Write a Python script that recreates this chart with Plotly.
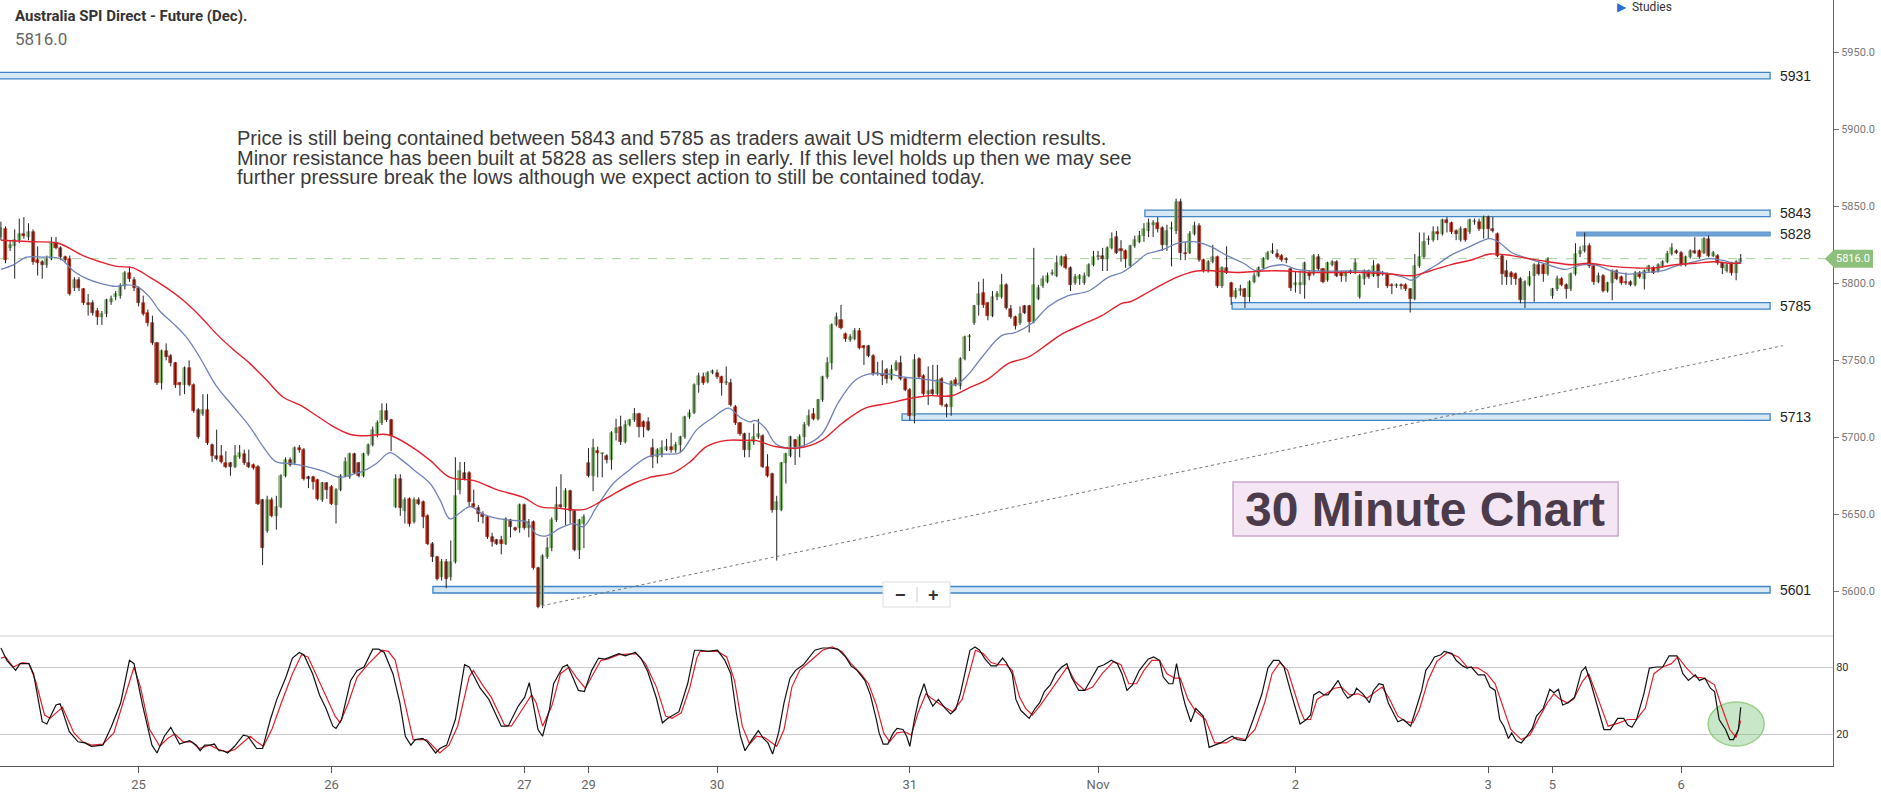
import plotly.graph_objects as go
from plotly.subplots import make_subplots

# --- 30 minute bars of the SPI Dec future (bar 0 = left edge) ---
opens = [
    5830, 5835, 5823, 5824, 5828, 5832, 5830, 5833, 5815, 5814,
    5812, 5816, 5826, 5823, 5817, 5816, 5797, 5802, 5796, 5787,
    5787, 5782, 5778, 5780, 5788, 5791, 5792, 5798, 5807, 5802,
    5797, 5787, 5781, 5774, 5761, 5735, 5756, 5753, 5748, 5735,
    5734, 5745, 5734, 5718, 5715, 5718, 5695, 5688, 5688, 5683,
    5683, 5681, 5687, 5689, 5683, 5682, 5681, 5659, 5639, 5659,
    5649, 5655, 5675, 5685, 5683, 5693, 5692, 5674, 5674, 5672,
    5659, 5670, 5668, 5656, 5666, 5675, 5674, 5689, 5683, 5675,
    5689, 5695, 5702, 5709, 5717, 5711, 5655, 5673, 5652, 5660,
    5645, 5659, 5658, 5649, 5631, 5622, 5609, 5619, 5609, 5619,
    5666, 5677, 5677, 5657, 5654, 5650, 5648, 5635, 5633, 5633,
    5631, 5646, 5641, 5641, 5656, 5641, 5645, 5615, 5591, 5622,
    5628, 5646, 5656, 5655, 5665, 5652, 5627, 5644, 5683, 5675,
    5691, 5689, 5688, 5685, 5703, 5707, 5697, 5708, 5711, 5715,
    5710, 5710, 5693, 5687, 5689, 5692, 5694, 5692, 5695, 5700,
    5713, 5716, 5734, 5739, 5736, 5742, 5742, 5739, 5735, 5735,
    5720, 5709, 5702, 5692, 5697, 5700, 5701, 5681, 5676, 5653,
    5653, 5683, 5688, 5698, 5694, 5700, 5708, 5715, 5712, 5724,
    5739, 5748, 5773, 5776, 5767, 5763, 5764, 5769, 5759, 5759,
    5753, 5741, 5741, 5744, 5738, 5744, 5748, 5738, 5731, 5714,
    5751, 5740, 5728, 5731, 5728, 5738, 5721, 5720, 5737, 5733,
    5751, 5765, 5774, 5786, 5794, 5787, 5779, 5791, 5791, 5799,
    5783, 5778, 5774, 5785, 5785, 5775, 5790, 5798, 5801, 5806,
    5805, 5812, 5817, 5810, 5800, 5803, 5800, 5805, 5812, 5817,
    5818, 5816, 5823, 5830, 5822, 5821, 5811, 5824, 5827, 5831,
    5834, 5838, 5839, 5836, 5825, 5835, 5834, 5853, 5820, 5820,
    5832, 5837, 5815, 5808, 5814, 5817, 5798, 5810, 5800, 5791,
    5795, 5796, 5791, 5801, 5805, 5810, 5816, 5820, 5819, 5818,
    5816, 5809, 5799, 5799, 5799, 5807, 5806, 5817, 5809, 5802,
    5812, 5814, 5807, 5805, 5808, 5807, 5791, 5803, 5808, 5805,
    5812, 5807, 5806, 5799, 5798, 5799, 5799, 5796, 5790, 5811,
    5817, 5828, 5828, 5833, 5832, 5841, 5839, 5834, 5828, 5835,
    5833, 5840, 5840, 5835, 5843, 5835, 5832, 5818, 5808, 5807,
    5806, 5803, 5789, 5799, 5805, 5812, 5812, 5806, 5792, 5796,
    5803, 5799, 5796, 5806, 5819, 5821, 5824, 5811, 5801, 5805,
    5795, 5800, 5808, 5804, 5801, 5801, 5799, 5807, 5803, 5808,
    5810, 5808, 5811, 5814, 5819, 5821, 5820, 5812, 5817, 5821,
    5821, 5820, 5829, 5818, 5818, 5813, 5808, 5813, 5807, 5814,
]
highs = [
    5840, 5837, 5828, 5835, 5842, 5843, 5839, 5835, 5824, 5815,
    5818, 5830, 5830, 5824, 5818, 5818, 5804, 5804, 5797, 5793,
    5789, 5784, 5782, 5790, 5792, 5795, 5800, 5808, 5811, 5804,
    5798, 5792, 5783, 5779, 5762, 5757, 5761, 5754, 5749, 5736,
    5746, 5750, 5735, 5719, 5728, 5728, 5696, 5705, 5695, 5691,
    5684, 5695, 5695, 5692, 5692, 5683, 5682, 5660, 5662, 5661,
    5662, 5676, 5687, 5687, 5694, 5695, 5693, 5675, 5675, 5673,
    5671, 5671, 5669, 5667, 5676, 5687, 5690, 5690, 5684, 5690,
    5696, 5707, 5711, 5722, 5722, 5712, 5676, 5676, 5661, 5661,
    5661, 5661, 5659, 5650, 5632, 5623, 5621, 5621, 5633, 5687,
    5684, 5684, 5678, 5666, 5656, 5652, 5649, 5638, 5634, 5636,
    5648, 5647, 5642, 5657, 5657, 5647, 5646, 5616, 5624, 5635,
    5648, 5668, 5676, 5667, 5666, 5653, 5647, 5650, 5693, 5699,
    5694, 5690, 5689, 5704, 5712, 5714, 5711, 5712, 5719, 5716,
    5711, 5713, 5699, 5693, 5698, 5699, 5703, 5697, 5701, 5714,
    5718, 5735, 5742, 5742, 5743, 5744, 5744, 5740, 5746, 5738,
    5721, 5710, 5703, 5703, 5709, 5712, 5702, 5689, 5677, 5662,
    5684, 5690, 5701, 5699, 5702, 5710, 5718, 5719, 5725, 5740,
    5752, 5774, 5781, 5786, 5768, 5767, 5771, 5771, 5760, 5760,
    5754, 5749, 5750, 5745, 5747, 5750, 5753, 5739, 5732, 5754,
    5752, 5741, 5746, 5747, 5747, 5739, 5722, 5737, 5739, 5752,
    5766, 5767, 5786, 5801, 5803, 5788, 5795, 5795, 5806, 5800,
    5786, 5779, 5785, 5786, 5786, 5823, 5799, 5805, 5807, 5809,
    5818, 5818, 5819, 5811, 5806, 5806, 5807, 5813, 5821, 5821,
    5823, 5824, 5833, 5834, 5828, 5822, 5825, 5831, 5834, 5839,
    5842, 5841, 5843, 5837, 5838, 5840, 5855, 5855, 5827, 5834,
    5840, 5839, 5816, 5815, 5825, 5818, 5811, 5824, 5801, 5797,
    5799, 5797, 5802, 5807, 5811, 5817, 5821, 5826, 5822, 5819,
    5817, 5810, 5808, 5808, 5814, 5808, 5819, 5819, 5810, 5814,
    5815, 5815, 5808, 5808, 5809, 5816, 5806, 5809, 5809, 5815,
    5813, 5808, 5807, 5800, 5800, 5800, 5800, 5797, 5819, 5833,
    5833, 5831, 5837, 5837, 5842, 5843, 5840, 5835, 5837, 5836,
    5842, 5842, 5842, 5844, 5844, 5843, 5833, 5819, 5815, 5808,
    5807, 5804, 5802, 5808, 5813, 5814, 5813, 5817, 5797, 5805,
    5804, 5800, 5807, 5826, 5824, 5833, 5826, 5812, 5807, 5806,
    5801, 5809, 5809, 5805, 5807, 5802, 5808, 5808, 5809, 5812,
    5811, 5813, 5815, 5821, 5826, 5822, 5821, 5818, 5822, 5830,
    5822, 5830, 5831, 5821, 5819, 5814, 5813, 5814, 5815, 5819,
]
lows = [
    5828, 5813, 5821, 5803, 5826, 5829, 5828, 5812, 5805, 5803,
    5810, 5815, 5822, 5815, 5813, 5792, 5795, 5795, 5786, 5779,
    5779, 5773, 5773, 5778, 5786, 5789, 5790, 5796, 5801, 5795,
    5785, 5779, 5772, 5760, 5734, 5731, 5750, 5746, 5732, 5727,
    5728, 5733, 5716, 5699, 5714, 5695, 5684, 5685, 5683, 5680,
    5675, 5680, 5686, 5682, 5680, 5679, 5656, 5617, 5638, 5648,
    5640, 5654, 5674, 5681, 5682, 5690, 5672, 5667, 5666, 5659,
    5658, 5660, 5656, 5644, 5665, 5674, 5673, 5676, 5674, 5674,
    5688, 5694, 5700, 5708, 5710, 5691, 5654, 5649, 5644, 5642,
    5644, 5656, 5641, 5630, 5619, 5607, 5607, 5602, 5607, 5618,
    5663, 5672, 5655, 5654, 5645, 5644, 5634, 5629, 5630, 5624,
    5630, 5635, 5639, 5638, 5640, 5635, 5614, 5589, 5589, 5621,
    5626, 5645, 5654, 5643, 5644, 5626, 5621, 5628, 5674, 5665,
    5674, 5674, 5683, 5679, 5698, 5695, 5696, 5707, 5710, 5700,
    5700, 5704, 5680, 5683, 5687, 5691, 5690, 5690, 5690, 5699,
    5712, 5715, 5729, 5734, 5735, 5741, 5738, 5727, 5734, 5720,
    5708, 5701, 5687, 5687, 5695, 5699, 5680, 5674, 5651, 5620,
    5652, 5670, 5687, 5682, 5687, 5694, 5707, 5711, 5711, 5723,
    5738, 5744, 5772, 5770, 5762, 5762, 5763, 5757, 5747, 5752,
    5740, 5740, 5734, 5735, 5737, 5743, 5737, 5730, 5711, 5709,
    5738, 5727, 5721, 5727, 5727, 5720, 5713, 5714, 5733, 5731,
    5750, 5756, 5773, 5779, 5784, 5776, 5778, 5789, 5790, 5783,
    5777, 5770, 5773, 5780, 5768, 5774, 5789, 5797, 5800, 5805,
    5804, 5811, 5809, 5795, 5799, 5799, 5799, 5804, 5811, 5815,
    5808, 5808, 5822, 5819, 5814, 5810, 5810, 5823, 5826, 5827,
    5830, 5830, 5833, 5821, 5821, 5811, 5832, 5815, 5815, 5819,
    5831, 5814, 5807, 5807, 5813, 5797, 5797, 5806, 5786, 5790,
    5792, 5784, 5788, 5800, 5804, 5809, 5815, 5819, 5816, 5814,
    5813, 5795, 5794, 5793, 5790, 5802, 5805, 5808, 5800, 5801,
    5811, 5804, 5801, 5801, 5806, 5806, 5790, 5799, 5803, 5804,
    5797, 5805, 5797, 5793, 5797, 5796, 5795, 5781, 5789, 5810,
    5816, 5825, 5827, 5828, 5831, 5833, 5832, 5828, 5827, 5827,
    5832, 5838, 5834, 5829, 5829, 5833, 5817, 5799, 5799, 5799,
    5799, 5787, 5784, 5798, 5788, 5805, 5801, 5805, 5790, 5795,
    5798, 5790, 5795, 5805, 5817, 5820, 5810, 5799, 5800, 5794,
    5794, 5789, 5802, 5799, 5799, 5798, 5798, 5803, 5796, 5807,
    5806, 5807, 5810, 5813, 5818, 5819, 5811, 5811, 5816, 5819,
    5816, 5819, 5817, 5817, 5812, 5806, 5807, 5805, 5802, 5813,
]
closes = [
    5836, 5815, 5825, 5828, 5832, 5831, 5833, 5814, 5813, 5812,
    5816, 5826, 5823, 5817, 5815, 5793, 5802, 5797, 5787, 5786,
    5781, 5778, 5780, 5789, 5790, 5793, 5798, 5807, 5803, 5797,
    5787, 5780, 5774, 5761, 5735, 5756, 5752, 5748, 5734, 5734,
    5745, 5734, 5717, 5700, 5718, 5696, 5688, 5686, 5684, 5681,
    5681, 5688, 5690, 5683, 5681, 5680, 5657, 5628, 5659, 5649,
    5655, 5675, 5685, 5682, 5693, 5692, 5673, 5673, 5671, 5660,
    5670, 5666, 5657, 5666, 5675, 5684, 5689, 5677, 5675, 5689,
    5695, 5705, 5709, 5717, 5711, 5701, 5673, 5654, 5659, 5644,
    5659, 5657, 5648, 5631, 5622, 5608, 5619, 5608, 5619, 5662,
    5678, 5673, 5658, 5655, 5650, 5648, 5635, 5632, 5631, 5631,
    5647, 5642, 5640, 5656, 5641, 5645, 5615, 5590, 5623, 5628,
    5646, 5656, 5655, 5665, 5652, 5627, 5646, 5648, 5675, 5693,
    5690, 5689, 5685, 5703, 5706, 5697, 5708, 5711, 5715, 5707,
    5707, 5705, 5687, 5692, 5693, 5694, 5692, 5695, 5700, 5713,
    5716, 5734, 5740, 5735, 5742, 5743, 5739, 5735, 5735, 5721,
    5709, 5702, 5692, 5697, 5700, 5702, 5681, 5675, 5653, 5658,
    5683, 5689, 5700, 5694, 5700, 5708, 5714, 5712, 5724, 5739,
    5748, 5773, 5778, 5771, 5764, 5765, 5769, 5758, 5758, 5753,
    5741, 5741, 5740, 5738, 5744, 5748, 5738, 5731, 5714, 5750,
    5739, 5728, 5730, 5728, 5737, 5721, 5720, 5736, 5734, 5751,
    5765, 5766, 5785, 5793, 5786, 5779, 5791, 5793, 5799, 5784,
    5778, 5772, 5780, 5781, 5775, 5799, 5797, 5803, 5805, 5807,
    5813, 5817, 5810, 5799, 5804, 5805, 5805, 5812, 5817, 5818,
    5816, 5823, 5829, 5820, 5821, 5816, 5824, 5828, 5831, 5835,
    5839, 5839, 5835, 5825, 5834, 5836, 5853, 5820, 5819, 5832,
    5837, 5815, 5808, 5814, 5817, 5798, 5810, 5807, 5791, 5795,
    5796, 5791, 5801, 5805, 5810, 5816, 5820, 5820, 5817, 5815,
    5815, 5797, 5800, 5800, 5813, 5805, 5818, 5809, 5801, 5813,
    5814, 5805, 5805, 5807, 5807, 5813, 5805, 5808, 5804, 5811,
    5805, 5806, 5798, 5798, 5799, 5798, 5796, 5790, 5811, 5817,
    5827, 5829, 5833, 5832, 5841, 5839, 5833, 5832, 5835, 5828,
    5841, 5840, 5835, 5843, 5835, 5834, 5818, 5806, 5804, 5804,
    5803, 5789, 5801, 5804, 5812, 5806, 5806, 5816, 5796, 5803,
    5799, 5796, 5806, 5819, 5821, 5824, 5811, 5801, 5805, 5795,
    5800, 5808, 5803, 5800, 5800, 5799, 5807, 5804, 5808, 5811,
    5807, 5812, 5814, 5819, 5823, 5820, 5812, 5817, 5821, 5820,
    5817, 5829, 5818, 5820, 5813, 5810, 5812, 5807, 5814, 5816,
]

# session starts shown on the time axis (bar index) and their labels
day_ticks = [30, 72, 114, 128, 156, 198, 239, 282, 324, 338, 366]
day_labels = ["25", "26", "27", "29", "30", "31", "Nov", "2", "3", "5", "6"]

# moving averages: bar index / price
ma_fast_x = [0, 2.7, 5.6, 9.2, 12.9, 15.8, 18.7, 21.6, 25.2, 27.4, 29.6, 32.4, 34.6, 37.5, 40.4,
             43.3, 47.0, 50.6, 54.2, 57.1, 60.0, 62.9, 66.6, 70.2, 73.8, 76.7, 78.9, 81.8, 84.7,
             87.0, 89.9, 93.5, 95.7, 97.8, 100.0, 102.2, 105.1, 108.7, 111.6, 114.5, 116.7, 118.9,
             121.8, 124.7, 126.9, 129.8, 133.4, 137.0, 140.7, 144.3, 147.9, 151.6, 155.2, 158.5,
             161.0, 163.2, 164.3, 166.5, 168.7, 171.6, 175.2, 178.8, 182.5, 186.1, 189.0, 193.3,
             197.0, 200.6, 205.0, 207.9, 210.8, 213.7, 218.0, 220.9, 224.6, 228.2, 232.5, 236.9,
             241.3, 244.2, 247.1, 249.6, 253.3, 256.2, 259.8, 263.4, 267.1, 270.7, 273.6, 276.5,
             279.4, 282.3, 286.7, 292.5, 296.8, 301.2, 305.5, 307.3, 309.9, 312.8, 315.7, 320.1,
             324.4, 326.6, 329.1, 332.8, 337.1, 340.7, 344.4, 347.3, 350.9, 354.5, 358.2, 361.8,
             364.7, 369.1, 372.0, 374.9, 377.8, 379.0]
ma_fast_y = [5809, 5812, 5817, 5817, 5816, 5808, 5803, 5800, 5798, 5799, 5798, 5791, 5782, 5774, 5765,
             5752, 5733, 5720, 5707, 5694, 5684, 5683, 5681, 5678, 5674, 5676, 5678, 5683, 5690,
             5686, 5679, 5670, 5659, 5647, 5651, 5655, 5650, 5647, 5646, 5645, 5637, 5636,
             5641, 5644, 5642, 5655, 5670, 5679, 5687, 5689, 5690, 5705, 5713, 5719,
             5713, 5710, 5711, 5706, 5696, 5693, 5695, 5702, 5723, 5737, 5741, 5741,
             5739, 5738, 5736, 5734, 5741, 5752, 5766, 5768, 5774, 5785, 5792, 5795,
             5804, 5807, 5813, 5819, 5822, 5826, 5827, 5824, 5818, 5813, 5808, 5811,
             5812, 5809, 5808, 5808, 5808, 5807, 5804, 5802, 5807, 5812, 5818, 5824,
             5829, 5826, 5820, 5816, 5812, 5809, 5812, 5812, 5808, 5806, 5807, 5808,
             5811, 5814, 5816, 5815, 5813, 5814]
ma_slow_x = [0, 7.0, 12.5, 17.9, 21.6, 25.2, 28.8, 32.4, 36.1, 39.7, 43.3, 47.0, 50.6, 54.2, 57.9,
             61.5, 65.1, 68.8, 72.4, 76.0, 79.6, 83.3, 85.1, 89.9, 93.5, 97.8, 102.9, 108.0, 113.8,
             117.4, 121.1, 126.9, 130.5, 133.4, 137.8, 141.4, 146.5, 150.1, 153.7, 158.1, 162.5,
             164.3, 168.7, 173.7, 178.8, 183.2, 188.3, 193.3, 197.7, 202.1, 207.1, 210.8, 215.1,
             219.5, 223.8, 228.2, 231.1, 235.4, 239.8, 244.2, 246.0, 250.4, 256.2, 260.5, 264.9,
             269.2, 275.0, 280.1, 285.2, 289.6, 296.8, 302.6, 307.7, 311.3, 315.7, 320.1, 324.4,
             329.1, 332.8, 337.1, 342.2, 345.8, 350.9, 356.0, 360.3, 364.7, 369.1, 373.4, 376.3, 379.0]
ma_slow_y = [5828, 5827, 5826, 5818, 5814, 5811, 5810, 5804, 5797, 5789, 5779, 5767, 5757, 5748, 5737,
             5726, 5721, 5714, 5707, 5702, 5701, 5702, 5701, 5693, 5685, 5674, 5672, 5666, 5661,
             5655, 5654, 5653, 5658, 5663, 5670, 5674, 5677, 5684, 5694, 5698, 5698,
             5698, 5694, 5693, 5698, 5709, 5719, 5722, 5725, 5727, 5727, 5732, 5738,
             5748, 5752, 5761, 5767, 5773, 5779, 5787, 5788, 5795, 5804, 5808, 5808,
             5807, 5808, 5808, 5807, 5807, 5807, 5806, 5805, 5808, 5812, 5815, 5819,
             5818, 5816, 5814, 5812, 5813, 5811, 5810, 5810, 5812, 5813, 5814, 5813, 5813]

# slow stochastic (%K black, %D red) turning points: bar index / value
stoch_k_x = [0, 1.3, 3.2, 4.2, 6.1, 7.1, 9.0, 10.0, 12.0, 12.9,
             14.9, 16.8, 18.3, 19.7, 22.2, 24.1, 26.1, 28.0, 29.0, 30.9,
             32.9, 34.0, 35.6, 37.0, 38.9, 41.1, 42.6, 43.4, 44.4, 45.5,
             46.5, 47.5, 48.4, 49.4, 50.9, 52.8, 53.8, 55.7, 57.0, 58.7,
             60.1, 62.1, 63.5, 65.0, 66.0, 67.9, 69.4, 70.8, 72.3, 73.0,
             74.2, 76.2, 77.6, 79.1, 81.0, 82.3, 83.5, 85.4, 86.9, 88.1,
             89.3, 90.3, 91.9, 92.9, 94.7, 95.6, 97.1, 99.0, 101.0, 102.0,
             104.4, 106.3, 109.0, 110.5, 112.7, 114.1, 115.1, 116.1, 117.0, 118.0,
             119.5, 120.4, 122.4, 123.4, 125.8, 127.1, 128.7, 130.2, 131.6, 134.6,
             136.0, 138.2, 139.4, 140.9, 142.8, 144.1, 145.3, 147.7, 149.6, 151.1,
             152.3, 154.0, 156.1, 157.7, 159.0, 160.2, 161.1, 162.1, 163.6, 165.0,
             166.1, 167.1, 168.1, 169.4, 170.6, 171.9, 173.1, 174.8, 176.1, 177.3,
             179.0, 180.6, 182.3, 184.0, 185.2, 186.5, 188.2, 189.4, 190.7, 191.3,
             192.2, 193.2, 194.4, 195.2, 196.5, 197.3, 198.0, 199.0, 200.0, 201.1,
             201.9, 203.0, 204.2, 205.7, 206.9, 208.0, 209.0, 209.8, 211.1, 212.2,
             213.2, 214.4, 215.7, 216.9, 218.2, 219.0, 220.3, 221.1, 222.2, 224.0,
             225.3, 226.3, 227.3, 228.6, 229.8, 231.1, 232.2, 233.2, 234.8, 236.1,
             237.3, 239.0, 240.3, 241.9, 243.2, 244.2, 245.3, 246.5, 248.0, 249.9,
             251.1, 252.4, 253.2, 254.4, 255.3, 256.1, 257.2, 258.0, 259.2, 260.3,
             261.9, 263.2, 264.4, 265.7, 266.9, 268.2, 269.4, 271.1, 272.8, 274.7,
             276.0, 277.2, 278.4, 279.5, 281.1, 283.0,
             284.4, 285.3, 286.0, 287.2, 288.2, 289.1, 290.1, 291.3, 292.4, 293.4,
             294.8, 295.3, 296.7, 298.1, 299.0, 300.2, 301.1, 302.2, 303.3, 304.3,
             305.5, 307.1, 308.0, 309.5, 310.4, 311.3, 312.3, 313.7, 314.4, 316.1,
             317.0, 318.4, 319.4, 320.3, 321.8, 323.2, 324.4, 325.5, 326.5, 327.4,
             328.4, 329.1, 330.1, 331.2, 332.4, 333.6, 334.5, 336.0, 337.4, 338.3,
             339.3, 340.2, 341.4, 342.8, 344.3, 345.2, 346.4, 347.8, 349.2, 350.6,
             352.2, 353.5, 354.4, 355.3, 356.3, 357.9, 359.1, 360.6, 362.0, 363.4,
             365.1, 366.4, 367.6, 369.1, 370.0, 371.2, 372.4, 373.3, 374.3, 375.7,
             376.6, 377.4, 378.5, 379.0]
stoch_k_y = [97, 86, 77, 83, 83, 74, 31, 29, 46, 47,
             22, 13, 12, 9, 10, 27, 48, 86, 83, 45,
             10, 3, 18, 26, 11, 14, 10, 5, 10, 10,
             11, 5, 5, 3, 9, 19, 18, 7, 7, 33,
             51, 71, 88, 93, 91, 74, 55, 43, 27, 25,
             33, 68, 77, 80, 96, 96, 93, 74, 48, 18,
             10, 15, 16, 13, 3, 7, 10, 33, 82, 80,
             61, 51, 27, 27, 45, 53, 66, 45, 24, 18,
             42, 65, 80, 82, 59, 58, 77, 88, 87, 92,
             90, 93, 88, 76, 52, 30, 34, 40, 65, 95,
             95, 94, 95, 86, 74, 39, 18, 5, 15, 23,
             16, 12, 2, 21, 48, 70, 77, 82, 89, 95,
             97, 97, 96, 89, 81, 77, 68, 55, 33, 21,
             11, 11, 21, 25, 24, 18, 9, 33, 52, 65,
             54, 45, 51, 43, 38, 42, 56, 70, 95, 98,
             95, 87, 81, 81, 88, 84, 74, 51, 41, 34,
             43, 48, 58, 64, 74, 80, 83, 71, 59, 59,
             68, 80, 82, 86, 83, 74, 59, 64, 77, 87,
             89, 86, 71, 65, 65, 83, 59, 46, 31, 43,
             36, 8, 10, 12, 15, 18, 15, 14, 33, 56,
             79, 86, 86, 80, 56, 29,
             33, 37, 55, 58, 55, 55, 61, 68, 58, 52,
             56, 61, 56, 48, 59, 65, 64, 48, 39, 31,
             33, 27, 39, 59, 77, 82, 89, 91, 94, 92,
             86, 81, 79, 80, 73, 73, 62, 59, 33, 27,
             16, 21, 14, 12, 18, 25, 36, 43, 60, 57,
             60, 46, 48, 53, 76, 80, 65, 45, 24, 24,
             34, 34, 28, 26, 33, 56, 79, 80, 80, 90,
             90, 74, 68, 73, 68, 70, 61, 58, 33, 24,
             15, 15, 24, 44]
stoch_d_x = [0, 1.0, 2.7, 4.7, 6.1, 7.6, 9.5, 10.7, 13.4, 15.9,
             17.8, 19.7, 22.2, 24.6, 26.6, 29.0, 30.4, 32.4, 34.6, 36.3,
             37.9, 39.7, 41.6, 43.1, 45.5, 47.5, 49.2, 50.9, 54.3, 55.7,
             57.2, 59.1, 61.1, 63.5, 65.5, 66.9, 69.9, 72.8, 73.9, 75.7,
             77.6, 80.1, 83.0, 84.4, 85.9, 87.9, 89.8, 92.7, 95.6, 97.6,
             99.5, 102.0, 102.9, 104.9, 106.8, 109.7, 111.2, 113.1, 115.6, 116.6,
             118.0, 120.0, 121.9, 123.8, 125.3, 127.3, 128.7, 130.7, 132.1, 134.6,
             138.4, 140.4, 142.8, 144.8, 146.2, 148.2, 150.1, 151.6,
             152.3, 156.1, 158.1, 159.8, 161.5, 163.1, 164.6, 166.3, 169.0, 170.6,
             172.3, 174.0, 176.5, 179.0, 181.1, 183.2, 185.2, 187.3, 189.0, 190.7,
             192.3, 193.6, 195.2, 196.9, 198.3, 199.8, 201.5, 202.7, 204.8, 207.3,
             209.4, 210.7, 212.3, 214.0, 215.7, 217.3, 219.0, 220.3, 221.9, 223.2,
             224.7, 226.5, 228.6, 230.7, 232.3, 234.0, 236.1, 237.8, 239.9, 242.4,
             244.0, 245.7, 247.4, 249.0, 250.7, 252.4, 254.0, 255.7, 256.9, 258.6,
             260.3, 262.4, 264.4, 266.9, 269.0, 271.1, 273.2, 275.3, 276.9, 278.6,
             280.3, 281.9, 283.0,
             283.9, 285.3, 286.7, 288.6, 290.5, 292.0, 293.8, 295.7, 297.6, 299.5,
             300.9, 302.4, 304.3, 306.1, 307.6, 309.0, 310.9, 312.8, 315.1, 317.5,
             319.4, 321.8, 323.7, 325.5, 327.4, 328.9, 331.2, 333.1, 335.0, 336.9,
             338.3, 339.7, 341.2, 342.6, 344.5, 345.9, 347.8, 350.1, 352.5, 354.4,
             356.3, 358.2, 360.1, 362.0, 363.9, 365.3, 367.2, 369.1, 371.0, 373.3,
             374.7, 376.6, 378.0, 379.0]
stoch_d_y = [88, 89, 80, 84, 83, 67, 37, 34, 44, 21,
             13, 10, 11, 21, 48, 80, 62, 24, 9, 16,
             20, 13, 13, 7, 10, 6, 4, 6, 18, 13,
             9, 25, 48, 74, 91, 89, 62, 36, 30, 48,
             71, 83, 95, 94, 86, 48, 15, 15, 3, 10,
             27, 71, 77, 64, 53, 28, 27, 39, 55, 48,
             27, 45, 74, 80, 71, 61, 71, 86, 87, 91,
             92, 83, 62, 36, 34, 39, 62, 88,
             94, 94, 89, 68, 27, 11, 18, 17, 9, 24,
             62, 77, 86, 95, 98, 94, 83, 74, 65, 46,
             21, 13, 21, 22, 19, 39, 56, 52, 46, 40,
             51, 71, 95, 92, 84, 82, 82, 77, 53, 43,
             37, 46, 58, 71, 80, 67, 59, 62, 74, 85,
             82, 65, 65, 77, 86, 86, 74, 70, 70, 51,
             40, 33, 12, 12, 17, 15, 24, 48, 74, 84,
             77, 56, 42,
             33, 33, 51, 56, 61, 62, 55, 56, 52, 58,
             62, 52, 36, 31, 30, 42, 68, 85, 93, 89,
             80, 79, 74, 65, 42, 24, 15, 19, 34, 48,
             56, 51, 48, 51, 67, 74, 53, 27, 30, 33,
             33, 43, 74, 80, 83, 89, 79, 71, 70, 64,
             46, 24, 17, 32]

# support / resistance levels drawn by the analyst
levels = [5931, 5843, 5828, 5785, 5713, 5601]
last_price = 5816.0

note_lines = [
    "Price is still being contained between 5843 and 5785 as traders await US midterm election results.",
    "Minor resistance has been built at 5828 as sellers step in early. If this level holds up then we may see",
    "further pressure break the lows although we expect action to still be contained today.",
]

# ---------------- drawing ----------------
GREEN = "#8fc27a"
GREEN_EDGE = "#6ea65a"
RED = "#b32d1a"
FONT = "Liberation Sans, Arial, sans-serif"
PLOT_W, PLOT_H = 1833, 766   # plot area in pixels (1881x795 page)

# where each analyst box sits on the chart (start bar, centre price)
zone_start = [-2, 249.2, 343.3, 268.2, 196.3, 94.1]
zone_mid = [5934.8, 5845.4, 5832.0, 5785.3, 5713.1, 5601.0]
zone_end = 385.4
trend_from = (117.8, 5590.6)
trend_to = (388.2, 5759.5)

n = len(closes)
bars = list(range(n))

fig = make_subplots(rows=2, cols=1, shared_xaxes=True, vertical_spacing=0,
                    row_heights=[636 / 766, 130 / 766])

# wicks
wx, wy = [], []
for i in bars:
    wx += [i, i, None]
    wy += [lows[i], highs[i], None]
fig.add_trace(go.Scatter(x=wx, y=wy, mode="lines", line=dict(color="#222222", width=1),
                         hoverinfo="skip", showlegend=False), row=1, col=1)

# candle bodies
body_base = [min(o, c) for o, c in zip(opens, closes)]
body_len = [max(abs(c - o), 0.7) for o, c in zip(opens, closes)]
body_col = [GREEN if c >= o else RED for o, c in zip(opens, closes)]
edge_col = [GREEN_EDGE if c >= o else RED for o, c in zip(opens, closes)]
fig.add_trace(go.Bar(x=bars, y=body_len, base=body_base, width=0.66,
                     marker=dict(color=body_col, line=dict(color=edge_col, width=0.6)),
                     hoverinfo="skip", showlegend=False), row=1, col=1)

# moving averages
fig.add_trace(go.Scatter(x=ma_fast_x, y=ma_fast_y, mode="lines", line_shape="spline",
                         line=dict(color="#6f82b8", width=1.3), showlegend=False), row=1, col=1)
fig.add_trace(go.Scatter(x=ma_slow_x, y=ma_slow_y, mode="lines", line_shape="spline",
                         line=dict(color="#e3202c", width=1.4), showlegend=False), row=1, col=1)

# stochastic
fig.add_trace(go.Scatter(x=stoch_d_x, y=stoch_d_y, mode="lines",
                         line=dict(color="#e0202a", width=1.2), showlegend=False), row=2, col=1)
fig.add_trace(go.Scatter(x=stoch_k_x, y=stoch_k_y, mode="lines",
                         line=dict(color="#111111", width=1.2), showlegend=False), row=2, col=1)

shapes = []
for lv, x0, mid in zip(levels, zone_start, zone_mid):
    solid = lv == 5828
    half = 1.2 if solid else 2.1
    shapes.append(dict(type="rect", xref="x", yref="y", x0=x0, x1=zone_end,
                       y0=mid - half, y1=mid + half, layer="between",
                       fillcolor="#6fa3d8" if solid else "#d6e7f6",
                       line=dict(color="#5b95cf" if solid else "#3f85c6", width=1.3)))

# trend line
shapes.append(dict(type="line", xref="x", yref="y", x0=trend_from[0], y0=trend_from[1],
                   x1=trend_to[0], y1=trend_to[1], line=dict(color="#777777", width=1, dash="dot")))

# last price line
shapes.append(dict(type="line", xref="paper", yref="y", x0=0, x1=1, y0=last_price, y1=last_price,
                   layer="between", line=dict(color="#a6d19c", width=1, dash="dash")))

# last price tag on the axis
shapes.append(dict(type="path", xref="paper", yref="y", xsizemode="pixel", ysizemode="pixel",
                   xanchor=1, yanchor=last_price, path="M -8,0 L 1,9 L 40,9 L 40,-9 L 1,-9 Z",
                   fillcolor="#8dc07a", line=dict(width=0)))

# "30 Minute Chart" label box
shapes.append(dict(type="rect", xref="x", yref="y", x0=268.4, x1=352.3, y0=5635.9, y1=5671.0,
                   fillcolor="#f4e7f3", line=dict(color="#c9a9c9", width=1.5)))

# panel separator and stochastic marker circle
shapes.append(dict(type="line", xref="paper", yref="paper", x0=0, x1=1, y0=130 / 766, y1=130 / 766,
                   line=dict(color="#cccccc", width=1)))
shapes.append(dict(type="circle", xref="x2", yref="y2", x0=371.9, x1=384.1, y0=9.3, y1=48.7,
                   layer="between", fillcolor="rgba(125,198,125,0.42)",
                   line=dict(color="#99cf88", width=1.5)))

# zoom widget
shapes.append(dict(type="rect", xref="paper", yref="paper", x0=883 / PLOT_W, x1=950 / PLOT_W,
                   y0=1 - 607 / PLOT_H, y1=1 - 582 / PLOT_H, fillcolor="white",
                   line=dict(color="#dddddd", width=1)))
shapes.append(dict(type="line", xref="paper", yref="paper", x0=917 / PLOT_W, x1=917 / PLOT_W,
                   y0=1 - 602 / PLOT_H, y1=1 - 587 / PLOT_H, line=dict(color="#cccccc", width=1)))

annotations = []
annotations.append(dict(text="<b>Australia SPI Direct - Future (Dec).</b>", xref="paper", yref="paper",
                        x=13 / PLOT_W, y=1 - 16 / PLOT_H, xanchor="left", yanchor="middle",
                        showarrow=False, font=dict(family="Roboto", size=15, color="#333333")))
annotations.append(dict(text=f"{last_price:.1f}", xref="paper", yref="paper",
                        x=13 / PLOT_W, y=1 - 39 / PLOT_H, xanchor="left", yanchor="middle",
                        showarrow=False, font=dict(family="Roboto", size=17, color="#666666")))
annotations.append(dict(text="<span style='color:#2a6fd0'>&#9654;</span>  Studies", xref="paper",
                        yref="paper", x=1615 / PLOT_W, y=1 - 7 / PLOT_H, xanchor="left",
                        yanchor="middle", showarrow=False,
                        font=dict(family="Roboto", size=12, color="#333333")))
for k, line in enumerate(note_lines):
    annotations.append(dict(text=line, xref="paper", yref="paper", x=235 / PLOT_W,
                            y=1 - (138 + 19.5 * k) / PLOT_H, xanchor="left", yanchor="middle",
                            showarrow=False, font=dict(family=FONT, size=20, color="#3a3a3a")))
for lv, mid in zip(levels, zone_mid):
    annotations.append(dict(text=str(lv), xref="x", yref="y", x=387.1, y=mid, xanchor="left",
                            yanchor="middle", showarrow=False,
                            font=dict(family=FONT, size=14, color="#222222")))
annotations.append(dict(text="<b>30 Minute Chart</b>", xref="x", yref="y", x=310.3, y=5653.3,
                        showarrow=False, font=dict(family=FONT, size=48, color="#4b3b4b")))
annotations.append(dict(text=f"{last_price:.1f}", xref="paper", yref="y", x=1, y=last_price,
                        xanchor="center", yanchor="middle", xshift=20, showarrow=False,
                        font=dict(family="Roboto", size=11, color="white")))
annotations.append(dict(text="<b>&#8722;</b>", xref="paper", yref="paper", x=900 / PLOT_W,
                        y=1 - 594.5 / PLOT_H, xanchor="center", yanchor="middle", showarrow=False,
                        font=dict(family=FONT, size=18, color="#333333")))
annotations.append(dict(text="<b>+</b>", xref="paper", yref="paper", x=933 / PLOT_W,
                        y=1 - 594.5 / PLOT_H, xanchor="center", yanchor="middle", showarrow=False,
                        font=dict(family=FONT, size=18, color="#333333")))

fig.update_layout(
    width=1881, height=795,
    margin=dict(l=0, r=48, t=0, b=29),
    paper_bgcolor="white", plot_bgcolor="white",
    showlegend=False, hovermode=False, bargap=0,
    shapes=shapes, annotations=annotations,
)

fig.update_xaxes(range=[-0.2, 399.1], showgrid=False, zeroline=False, fixedrange=True)
fig.update_xaxes(row=2, col=1, tickmode="array", tickvals=day_ticks, ticktext=day_labels,
                 ticks="outside", ticklen=6, tickcolor="#555555", showline=True,
                 linecolor="#555555", linewidth=1,
                 tickfont=dict(family="Roboto", size=13, color="#666666"))
fig.update_xaxes(row=1, col=1, showticklabels=False, ticks="")

fig.update_yaxes(row=1, col=1, side="right", range=[5570.97, 5983.96], showgrid=False,
                 zeroline=False, tickmode="array", tickvals=[5600, 5650, 5700, 5750, 5800, 5850, 5900, 5950],
                 tickformat=".1f", ticks="outside", ticklen=5, tickcolor="#777777",
                 showline=True, linecolor="#666666", linewidth=1,
                 tickfont=dict(family="Roboto", size=11, color="#777777"))
fig.update_yaxes(row=2, col=1, side="right", range=[-8.66, 107.76], showgrid=True,
                 gridcolor="#c8c8c8", zeroline=False, tickmode="array", tickvals=[20, 80],
                 ticks="", showline=True, linecolor="#666666", linewidth=1,
                 tickfont=dict(family="Roboto", size=11, color="#333333"))

fig.write_html("out.html", config={"displayModeBar": False},
               post_script="document.body.style.margin='0px';")
